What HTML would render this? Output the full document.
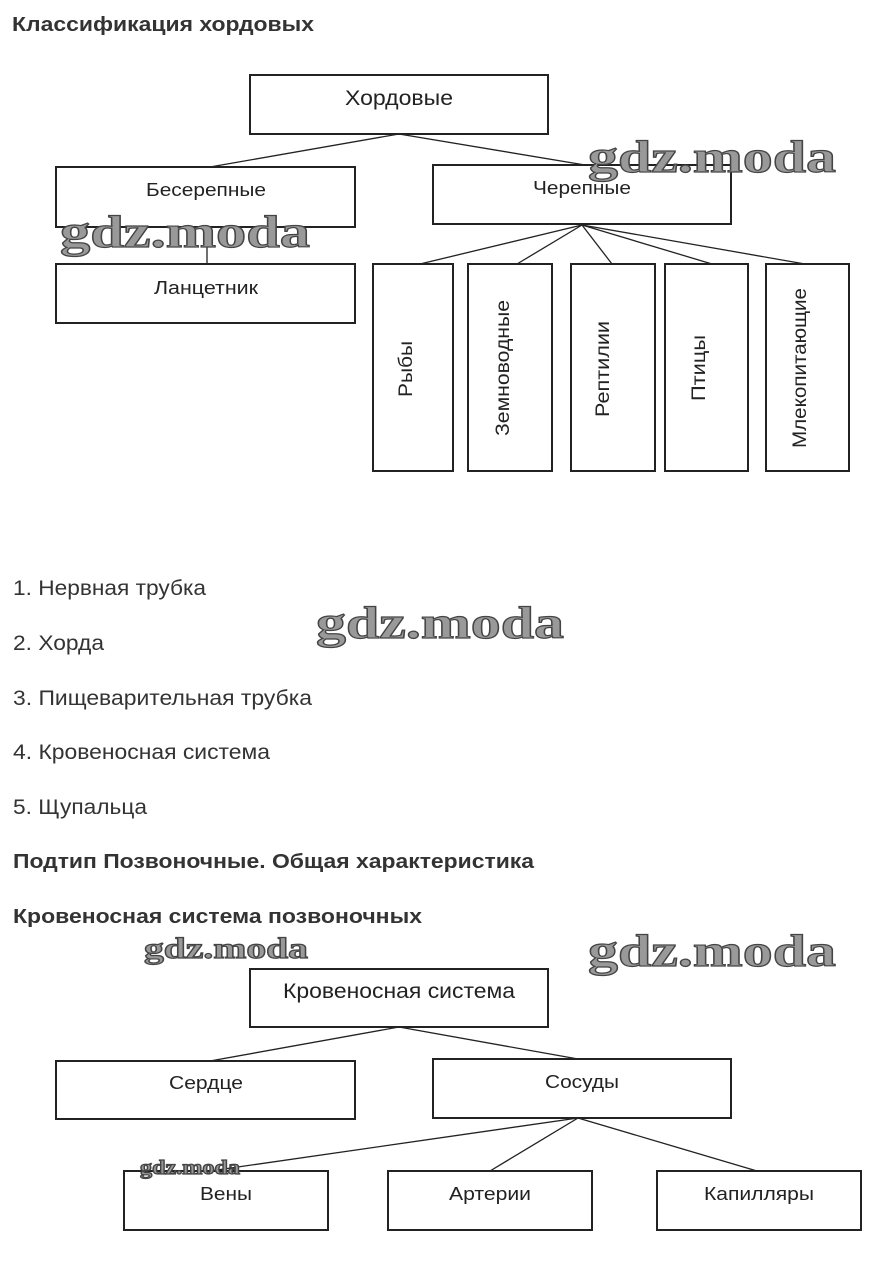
<!DOCTYPE html>
<html><head><meta charset="utf-8"><style>
html,body{margin:0;padding:0;background:#fff;}
svg{display:block;}
.t{font-family:"Liberation Sans",sans-serif;fill:#333;}
.b{font-weight:bold;font-size:20px;}
.l{font-size:21px;}
.n{font-family:"Liberation Sans",sans-serif;fill:#222;font-size:18px;}
.big{font-size:21px;}
.w{font-family:"Liberation Serif",serif;font-weight:bold;fill:#999;stroke:#444;stroke-width:1.2;}
rect{fill:none;stroke:#222;stroke-width:2;}
line{stroke:#222;stroke-width:1.3;}
</style></head><body>
<svg width="887" height="1280" viewBox="0 0 887 1280" xmlns="http://www.w3.org/2000/svg">
<text class="t b" x="12" y="31" textLength="302" lengthAdjust="spacingAndGlyphs">Классификация хордовых</text>
<line x1="399" y1="134" x2="210" y2="167"/><line x1="399" y1="134" x2="585" y2="165"/>
<line x1="207" y1="227" x2="207" y2="264"/>
<line x1="582" y1="225" x2="420" y2="264"/><line x1="582" y1="225" x2="517" y2="264"/>
<line x1="582" y1="225" x2="612" y2="264"/><line x1="582" y1="225" x2="712" y2="264"/>
<line x1="582" y1="225" x2="805" y2="264"/>
<rect x="250" y="75" width="298" height="59"/>
<rect x="56" y="167" width="299" height="60"/>
<rect x="433" y="165" width="298" height="59"/>
<rect x="56" y="264" width="299" height="59"/>
<rect x="373" y="264" width="80" height="207"/>
<rect x="468" y="264" width="84" height="207"/>
<rect x="571" y="264" width="84" height="207"/>
<rect x="665" y="264" width="83" height="207"/>
<rect x="766" y="264" width="83" height="207"/>
<text class="n big" x="399" y="105" text-anchor="middle" textLength="108" lengthAdjust="spacingAndGlyphs">Хордовые</text>
<text class="n" x="206" y="196" text-anchor="middle" textLength="120" lengthAdjust="spacingAndGlyphs">Бесерепные</text>
<text class="n" x="582" y="194" text-anchor="middle" textLength="98" lengthAdjust="spacingAndGlyphs">Черепные</text>
<text class="n" x="206" y="294" text-anchor="middle" textLength="104" lengthAdjust="spacingAndGlyphs">Ланцетник</text>
<text class="n" transform="translate(406,369) rotate(-90)" text-anchor="middle" dy="6" font-size="19" textLength="56" lengthAdjust="spacingAndGlyphs" style="font-size:19px">Рыбы</text>
<text class="n" transform="translate(503,368) rotate(-90)" text-anchor="middle" dy="6" textLength="136" lengthAdjust="spacingAndGlyphs" style="font-size:19px">Земноводные</text>
<text class="n" transform="translate(603,369) rotate(-90)" text-anchor="middle" dy="6" textLength="96" lengthAdjust="spacingAndGlyphs" style="font-size:19px">Рептилии</text>
<text class="n" transform="translate(699,368) rotate(-90)" text-anchor="middle" dy="6" textLength="66" lengthAdjust="spacingAndGlyphs" style="font-size:19px">Птицы</text>
<text class="n" transform="translate(800,368) rotate(-90)" text-anchor="middle" dy="6" textLength="160" lengthAdjust="spacingAndGlyphs" style="font-size:19px">Млекопитающие</text>
<text class="w" x="588" y="172" font-size="46" textLength="248" lengthAdjust="spacingAndGlyphs">gdz.moda</text>
<text class="w" x="60" y="247" font-size="46" textLength="250" lengthAdjust="spacingAndGlyphs">gdz.moda</text>
<text class="t l" x="13" y="595" textLength="193" lengthAdjust="spacingAndGlyphs">1. Нервная трубка</text>
<text class="t l" x="13" y="650" textLength="91" lengthAdjust="spacingAndGlyphs">2. Хорда</text>
<text class="t l" x="13" y="705" textLength="299" lengthAdjust="spacingAndGlyphs">3. Пищеварительная трубка</text>
<text class="t l" x="13" y="759" textLength="257" lengthAdjust="spacingAndGlyphs">4. Кровеносная система</text>
<text class="t l" x="13" y="814" textLength="134" lengthAdjust="spacingAndGlyphs">5. Щупальца</text>
<text class="w" x="316" y="638" font-size="46" textLength="248" lengthAdjust="spacingAndGlyphs">gdz.moda</text>
<text class="t b" x="13" y="868" textLength="521" lengthAdjust="spacingAndGlyphs">Подтип Позвоночные. Общая характеристика</text>
<text class="t b" x="13" y="923" textLength="409" lengthAdjust="spacingAndGlyphs">Кровеносная система позвоночных</text>
<text class="w" x="144" y="958" font-size="30" textLength="164" lengthAdjust="spacingAndGlyphs">gdz.moda</text>
<text class="w" x="588" y="966" font-size="46" textLength="248" lengthAdjust="spacingAndGlyphs">gdz.moda</text>
<line x1="399" y1="1027" x2="210" y2="1061"/><line x1="399" y1="1027" x2="578" y2="1059"/>
<line x1="578" y1="1118" x2="210" y2="1171"/><line x1="578" y1="1118" x2="490" y2="1171"/>
<line x1="578" y1="1118" x2="757" y2="1171"/>
<rect x="250" y="969" width="298" height="58"/>
<rect x="56" y="1061" width="299" height="58"/>
<rect x="433" y="1059" width="298" height="59"/>
<rect x="124" y="1171" width="204" height="59"/>
<rect x="388" y="1171" width="204" height="59"/>
<rect x="657" y="1171" width="204" height="59"/>
<text class="n big" x="399" y="998" text-anchor="middle" textLength="232" lengthAdjust="spacingAndGlyphs">Кровеносная система</text>
<text class="n" x="206" y="1089" text-anchor="middle" textLength="74" lengthAdjust="spacingAndGlyphs">Сердце</text>
<text class="n" x="582" y="1088" text-anchor="middle" textLength="74" lengthAdjust="spacingAndGlyphs">Сосуды</text>
<text class="n" x="226" y="1200" text-anchor="middle" textLength="52" lengthAdjust="spacingAndGlyphs">Вены</text>
<text class="n" x="490" y="1200" text-anchor="middle" textLength="82" lengthAdjust="spacingAndGlyphs">Артерии</text>
<text class="n" x="759" y="1200" text-anchor="middle" textLength="110" lengthAdjust="spacingAndGlyphs">Капилляры</text>
<text class="w" x="140" y="1174" font-size="20" stroke-width="0.6" textLength="100" lengthAdjust="spacingAndGlyphs">gdz.moda</text>
</svg>
</body></html>
